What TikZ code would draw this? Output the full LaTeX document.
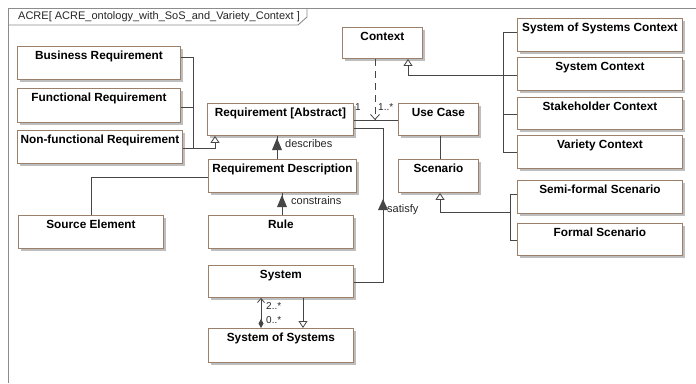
\documentclass[tikz,border=0pt]{standalone}
\usepackage{fontspec}
\setmainfont{Liberation Sans}
\usetikzlibrary{arrows.meta,shadows}
\definecolor{boxborder}{RGB}{155,128,108}
\definecolor{shadowc}{RGB}{190,190,190}
\definecolor{linec}{RGB}{70,70,70}
\definecolor{framec}{RGB}{140,140,140}
\tikzset{
  cls/.style={draw=boxborder, fill=white, line width=0.9pt, inner sep=0pt, anchor=north west,
    drop shadow={shadow xshift=2.5pt, shadow yshift=-2.5pt, fill=shadowc, opacity=1}},
  conn/.style={draw=linec, line width=0.8pt},
  gen/.style={conn, -{Triangle[open, length=7pt, width=9pt, fill=white]}},
  dep/.style={conn, dash pattern=on 7pt off 5pt, -{Straight Barb[length=5pt, width=9pt]}},
  comp/.style={conn, {Diamond[length=9pt, width=5pt]}-{Straight Barb[length=4pt, width=7pt]}},
  dirmark/.style={fill=linec, draw=none},
  lbl/.style={font=\fontsize{11}{13}\selectfont, inner sep=0pt, text=black!85},
  mult/.style={font=\fontsize{10}{12}\selectfont, inner sep=0pt, text=black!85},
}
\newcommand{\clsbox}[6]{%
  \node[cls] (#1) at (#2,#3) {\parbox[t][#5pt][t]{#4pt}{\centering\fontsize{11.8}{14}\selectfont\bfseries\rule{0pt}{13.5pt}#6}};}
\begin{document}
\begin{tikzpicture}[x=1pt, y=-1pt]
\useasboundingbox (0,0) rectangle (696,383);
\fill[white] (0,0) rectangle (696,383);
% frame
\draw[framec, line width=0.9pt] (8,383) -- (8,8) -- (696,8);
\draw[framec, line width=0.9pt] (8,25) -- (298,25) -- (307,17) -- (307,8);
\node[lbl, anchor=west] (frametitle) at (18,17) {ACRE[ ACRE\_ontology\_with\_SoS\_and\_Variety\_Context ]};
% classes
\clsbox{busreq}{17}{46}{163}{33}{Business Requirement}
\clsbox{funreq}{17}{88}{163}{34}{Functional Requirement}
\clsbox{nfreq}{17}{130}{165}{33}{Non-functional Requirement}
\clsbox{reqabs}{207}{103}{146}{32}{Requirement [Abstract]}
\clsbox{reqdesc}{208}{159}{148}{33}{Requirement Description}
\clsbox{source}{18}{215}{145}{33}{Source Element}
\clsbox{rule}{208}{215}{145}{33}{Rule}
\clsbox{system}{208}{265}{145}{32}{System}
\clsbox{sos}{208}{328}{145}{34}{System of Systems}
\clsbox{context}{342}{27}{80}{31}{Context}
\clsbox{usecase}{398}{103}{80}{32}{Use Case}
\clsbox{scenario}{398}{159}{80}{33}{Scenario}
\clsbox{sosctx}{517}{18}{165}{33}{System of Systems Context}
\clsbox{sysctx}{517}{57}{165}{33}{System Context}
\clsbox{stakectx}{517}{97}{165}{32}{Stakeholder Context}
\clsbox{varctx}{517}{135}{165}{33}{Variety Context}
\clsbox{semiscn}{517}{180}{165}{33}{Semi-formal Scenario}
\clsbox{formscn}{517}{223}{165}{32}{Formal Scenario}
% requirement generalization
\coordinate (gA) at (193,148);
\draw[conn] (busreq.east |- 0,57) -| (gA);
\draw[conn] (funreq.east |- 0,107) -- (gA |- 0,107);
\draw[gen] (nfreq.east |- 0,148) -| (reqabs.south -| 215,0);
% describes
\draw[conn] (reqdesc.north -| 277,0) -- (reqabs.south -| 277,0);
\fill[dirmark] (277,138) -- (282,150) -- (272,150) -- cycle;
\node[lbl, anchor=west] (describes) at (285,144) {describes};
% constrains
\draw[conn] (rule.north -| 282,0) -- (reqdesc.south -| 282,0);
\fill[dirmark] (282,195) -- (287,207) -- (277,207) -- cycle;
\node[lbl, anchor=west] (constrains) at (291,201) {constrains};
% source element
\draw[conn] (source.north) |- (reqdesc.west |- 0,177);
% satisfy
\coordinate (gS) at (383,128);
\draw[conn] (system.east |- 0,282) -| (gS) -- (reqabs.east |- 0,128);
\fill[dirmark] (383,199) -- (388,210) -- (378,210) -- cycle;
\node[lbl, anchor=west] (satisfy) at (387,210) {satisfy};
% requirement -- use case association
\coordinate (assocpt) at (375,120);
\draw[conn] (reqabs.east |- 0,120) -- (usecase.west |- 0,120);
\node[mult, anchor=west] (m1) at (355,107) {1};
\node[mult, anchor=west] (m2) at (378,107) {1..*};
\draw[dep] (context.south -| 375,0) -- (assocpt);
% use case -- scenario
\draw[conn] (usecase.south -| 440,0) -- (scenario.north -| 440,0);
% scenario generalization
\coordinate (gB) at (510,212);
\coordinate (gB2) at (510,240);
\draw[conn] (semiscn.west |- 0,194) -| (gB2) -- (formscn.west |- 0,240);
\draw[gen] (gB) -| (scenario.south -| 440,0);
% context generalization
\coordinate (gC) at (503,152);
\draw[conn] (sosctx.west |- 0,32) -| (gC) -- (varctx.west |- 0,152);
\draw[conn] (stakectx.west |- 0,114) -- (gC |- 0,114);
\draw[gen] (sysctx.west |- 0,75) -| (context.south -| 408,0);
% system -- system of systems
\draw[comp] (sos.north -| 261,0) -- (system.south -| 261,0);
\node[mult, anchor=west] (m3) at (266,306) {2..*};
\node[mult, anchor=west] (m4) at (266,320) {0..*};
\draw[gen] (system.south -| 303,0) -- (sos.north -| 303,0);
\end{tikzpicture}
\end{document}
